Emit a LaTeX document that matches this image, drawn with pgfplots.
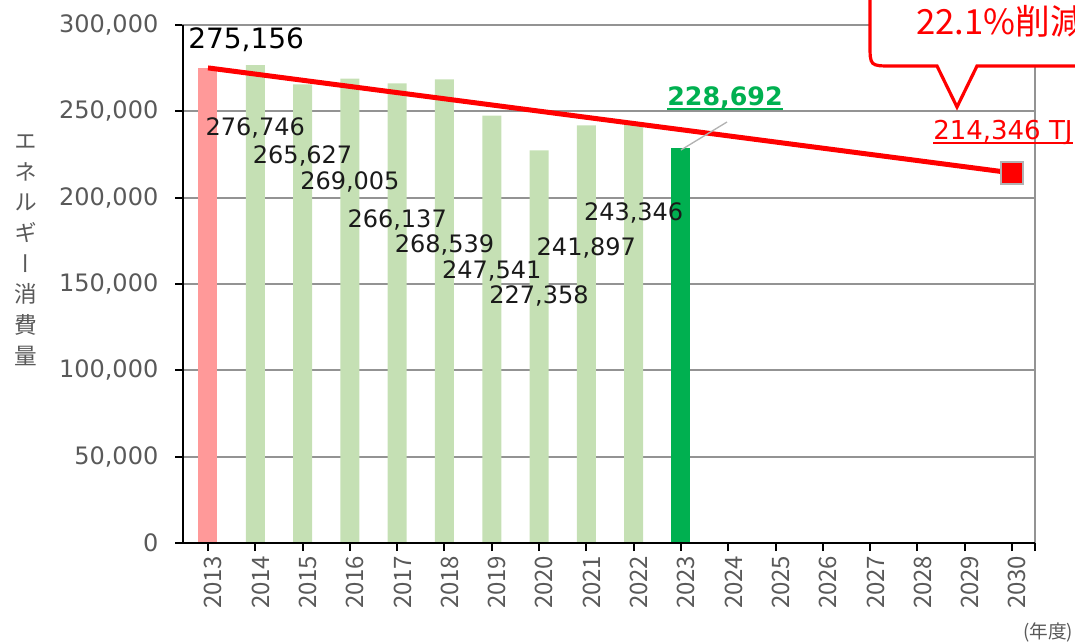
\documentclass[border=0pt]{standalone}
\usepackage{pgfplots}
\pgfplotsset{compat=1.18}
\usepackage{fontspec}
\setmainfont{DejaVu Sans}
\newfontfamily\jp{Noto Sans CJK JP}
\newfontfamily\jpv[RawFeature=+vert]{Noto Sans CJK JP}

\definecolor{pinkbar}{HTML}{FF9999}
\definecolor{lgreen}{HTML}{C5E0B4}
\definecolor{dgreen}{HTML}{00B050}
\definecolor{gridgray}{HTML}{939393}
\definecolor{labgray}{HTML}{595959}
\definecolor{txt}{HTML}{1A1A1A}

% thicker underline, in the text colour
\newcommand\ul[1]{\setbox0\hbox{#1}\rlap{\rule[-2.8pt]{\wd0}{1.3pt}}\box0}

\begin{document}
\begin{tikzpicture}
% page = 1075 x 643 px, 1px = 0.75pt, axis origin at px (183,543)
\useasboundingbox (-137.25pt,-75pt) rectangle (669pt,407.25pt);
\clip (-137.25pt,-75pt) rectangle (669pt,407.25pt);

\begin{axis}[
  at={(0,0)}, anchor=south west,
  scale only axis, width=639pt, height=388.5pt,
  xmin=2012.4714, xmax=2030.4863,
  ymin=0, ymax=300000,
  clip=false,
  scaled y ticks=false,
  axis line style={gridgray, line width=1.5pt},
  ymajorgrids,
  grid style={gridgray, line width=1.5pt},
  tick pos=left, tick align=outside,
  major tick length=6pt,
  tick style={black, line width=1.5pt},
  xtick={2013,2014,2015,2016,2017,2018,2019,2020,2021,2022,2023,2024,2025,2026,2027,2028,2029,2030},
  xticklabels={2013,2014,2015,2016,2017,2018,2019,2020,2021,2022,2023,2024,2025,2026,2027,2028,2029,2030},
  extra x ticks={2030.4863}, extra x tick labels={},
  ytick={0,50000,100000,150000,200000,250000,300000},
  yticklabels={0,{50,000},{100,000},{150,000},{200,000},{250,000},{300,000}},
  x tick label style={font=\jp\fontsize{18}{20}\selectfont, text=labgray, rotate=90, anchor=east, yshift=-4pt},
  y tick label style={font=\fontsize{18}{20}\selectfont, text=labgray, xshift=-9pt},
]
% bars
\addplot[ybar, bar width=14.25pt, bar shift=0pt, fill=pinkbar, draw=none]
  coordinates {(2013,275156)};
\addplot[ybar, bar width=14.25pt, bar shift=0pt, fill=lgreen, draw=none]
  coordinates {(2014,276746) (2015,265627) (2016,269005) (2017,266137) (2018,268539)
               (2019,247541) (2020,227358) (2021,241897) (2022,243346)};
\addplot[ybar, bar width=14.25pt, bar shift=0pt, fill=dgreen, draw=none]
  coordinates {(2023,228692)};

% target line 2013 -> 2030
\addplot[red, line width=3.75pt] coordinates {(2013,275156) (2030,214346)};
\addplot[only marks, mark=square*, mark size=8.5pt,
  mark options={fill=red, draw=gray!60, line width=1.5pt}]
  coordinates {(2030,214346)};

% black left / bottom axis lines
\draw[black, line width=2pt] (rel axis cs:0,1) -- (rel axis cs:0,0) -- (rel axis cs:1,0);

% data labels
\begin{scope}[every node/.style={font=\fontsize{18}{20}\selectfont, text=txt, inner sep=0pt}]
\node at (axis cs:2014,240347) {276,746};
\node at (axis cs:2015,224131) {265,627};
\node at (axis cs:2016,209073) {269,005};
\node at (axis cs:2017,187224) {266,137};
\node at (axis cs:2018,172587) {268,539};
\node at (axis cs:2019,157529) {247,541};
\node at (axis cs:2020,143050) {227,358};
\node at (axis cs:2021,170849) {241,897};
\node at (axis cs:2022,191120) {243,346};
\end{scope}
\node[anchor=west, inner sep=0pt, font=\fontsize{21}{23}\selectfont, text=black]
  at (axis cs:2012.577,291312) {275,156};
\draw[gray!60, line width=1pt] (axis cs:2023.974,243822) -- (axis cs:2023.0,227606);
\node[inner sep=0pt, font=\bfseries\fontsize{19}{21}\selectfont, text=dgreen]
  at (axis cs:2023.932,257500) {\ul{228,692}};
\node[anchor=west, inner sep=0pt, font=\fontsize{19.5}{21}\selectfont, text=red]
  at (axis cs:2028.33,237500) {\ul{214,346 TJ}};
\end{axis}

% pixel frame
\begin{scope}[shift={(-137.25pt,407.25pt)}, x=0.75pt, y=-0.75pt]
\filldraw[draw=red, fill=white, line width=2.4pt, line join=miter]
  (870,-30) -- (870,44) .. controls (870,66) .. (892,66) -- (937,66) -- (957,107)
  -- (977,66) -- (1110,66) -- (1110,-30) -- cycle;
\node[anchor=base west, inner sep=0pt, text=red, font=\jp\fontsize{26}{28}\selectfont]
  at (916,35) {22.1\%削減};
\node[inner sep=0pt, text=labgray, font=\jp\fontsize{14}{16}\selectfont] at (1048,632) {(年度)};
\node[inner sep=0pt, align=center, text=labgray, font=\jpv\fontsize{17}{23}\selectfont]
  at (26,250) {エ\\ネ\\ル\\ギ\\ー\\消\\費\\量};
\end{scope}
\end{tikzpicture}
\end{document}
